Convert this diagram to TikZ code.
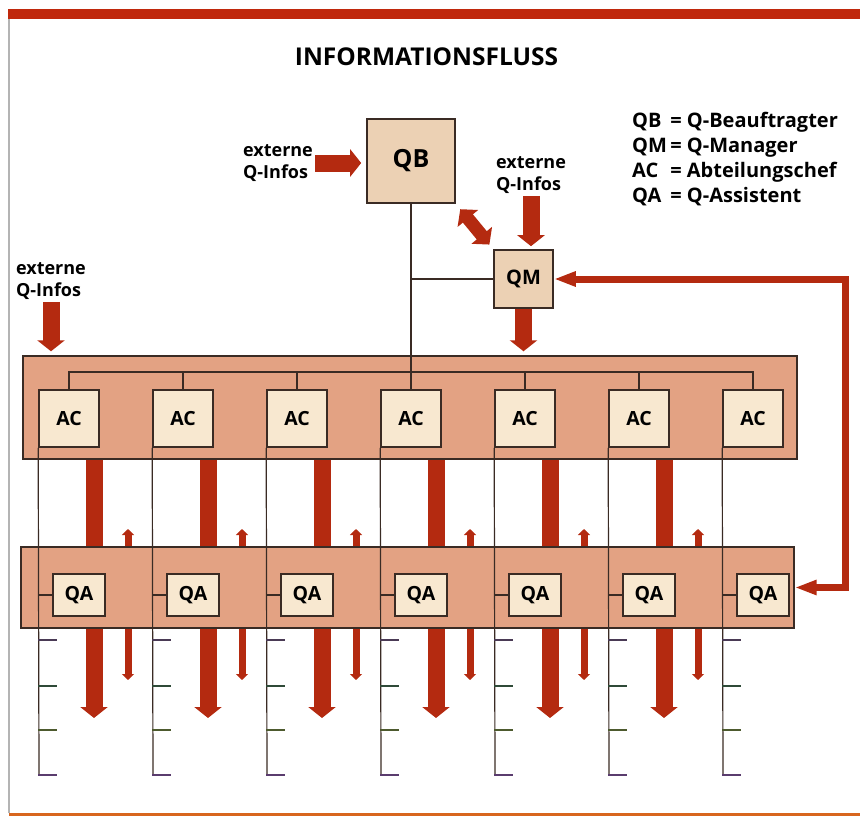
\documentclass[tikz,border=0pt]{standalone}
\usepackage{fontspec}
\setmainfont{Open Sans}
\usetikzlibrary{arrows.meta,positioning,calc}
\definecolor{band}{HTML}{C0280C}
\definecolor{arrowred}{HTML}{B42A10}
\definecolor{panelfill}{HTML}{E3A283}
\definecolor{qbfill}{HTML}{ECD1B4}
\definecolor{boxfill}{HTML}{F8E8D0}
\definecolor{edge}{HTML}{3A2B24}
\definecolor{frame}{HTML}{B4B4B4}
\definecolor{bottomline}{HTML}{D8661E}
\definecolor{tickA}{HTML}{4A3A55}
\definecolor{tickB}{HTML}{2F4A38}
\definecolor{tickC}{HTML}{4D5A2E}
\definecolor{tickD}{HTML}{5A3C6E}

\begin{document}
\begin{tikzpicture}[x=1pt, y=-1pt, font=\bfseries,
  panel/.style={draw=edge, fill=panelfill, line width=1.4pt, inner sep=0pt},
  acbox/.style={draw=edge, fill=boxfill, line width=1.6pt, minimum width=60pt, minimum height=57pt, inner sep=0pt, font=\fontsize{19.5}{19.5}\selectfont\bfseries},
  qabox/.style={acbox, minimum width=52pt, minimum height=42pt},
  topbox/.style={draw=edge, fill=qbfill, line width=1.6pt, inner sep=0pt},
  extinfo/.style={align=left, font=\fontsize{18}{22.5}\selectfont\bfseries, inner sep=2pt},
  wire/.style={draw=edge, line width=1.2pt},
  fatarr/.style={draw=arrowred, line width=17pt, -{Triangle[length=11pt,width=27pt]}},
  duoarr/.style={draw=arrowred, line width=13pt, {Triangle[length=12pt,width=26pt]}-{Triangle[length=12pt,width=26pt]}},
  thinarr/.style={draw=arrowred, line width=7pt, {Triangle[length=6pt,width=12pt]}-{Triangle[length=6pt,width=12pt]}},
  looparr/.style={draw=arrowred, line width=7pt, {Triangle[length=22pt,width=14pt]}-{Triangle[length=22pt,width=14pt]}}
]
\useasboundingbox (0,0) rectangle (860,816);
\fill[band] (8,9) rectangle (860,19);
\draw[frame, line width=1.5pt] (9,19) -- (9,813);
\fill[bottomline] (9,813) rectangle (860,816);

\node[font=\fontsize{24.5}{24.5}\selectfont\bfseries] (title) at (426.5,57) {INFORMATIONSFLUSS};
\node[anchor=north west, inner sep=0pt, font=\fontsize{20}{25}\selectfont\bfseries] (legend) at (632,110)
  {\begin{tabular}{@{}l@{\,}l@{}}QB & = Q-Beauftragter\\QM & = Q-Manager\\AC & = Abteilungschef\\QA & = Q-Assistent\end{tabular}};

\node[panel, minimum width=774pt, minimum height=103pt] (acpanel) at (410,407.5) {};
\foreach \i in {1,...,7} {
  \node[acbox] (ac\i) at ({69+114*(\i-1)},418.5) {AC};
}
\coordinate (bus) at (0,372);
\draw[wire] (ac1.north) -- (ac1.north |- bus) -- (ac7.north |- bus) -- (ac7.north);
\foreach \i in {2,...,6} {
  \draw[wire] (ac\i.north) -- (ac\i.north |- bus);
}

\foreach \i in {1,...,6} {
  \coordinate (tip\i) at ({94+114*(\i-1)},718);
  \coordinate (up\i) at ({128+114*(\i-1)},529);
  \coordinate (dn\i) at ({128+114*(\i-1)},680);
  \draw[fatarr] (acpanel.south -| tip\i) -- (tip\i);
  \draw[thinarr] (dn\i) -- (up\i);
}

\node[panel, minimum width=773pt, minimum height=81pt] (qapanel) at (407.5,587.5) {};
\foreach \i in {1,...,7} {
  \node[qabox] (qa\i) at ({79+114*(\i-1)},595) {QA};
  \coordinate (foot\i) at ({39+114*(\i-1)},775);
  \draw[wire] (ac\i.south west) -- (foot\i);
  \draw[wire] (ac\i.south west |- qa\i.west) -- (qa\i.west);
  \foreach \y/\c in {640/tickA,686/tickB,730/tickC,775/tickD} {
    \draw[wire, draw=\c] (ac\i.south west |- 0,\y) -- ++(19,0);
  }
}

\node[topbox, minimum width=88pt, minimum height=84pt, font=\fontsize{25}{25}\selectfont\bfseries] (qb) at (411,161) {QB};
\node[topbox, minimum width=59pt, minimum height=58pt, font=\fontsize{20}{20}\selectfont\bfseries] (qm) at (523.5,279) {QM};
\draw[wire] (qb.south) -- (ac4.north);
\draw[wire] (qb.south |- qm.west) -- (qm.west);

\node[extinfo] (extqb) at (278,163) {externe\\Q-Infos};
\node[extinfo] (extqm) at (531,175) {externe\\Q-Infos};
\node[extinfo] (extac) at (51,281) {externe\\Q-Infos};

\draw[fatarr, shorten >=5pt] (extqb.east) -- (extqb.east -| qb.west);
\draw[fatarr, shorten >=3pt] (extqm.south) -- (extqm.south |- qm.north);
\draw[fatarr, shorten >=4pt] (extac.south) -- (extac.south |- acpanel.north);
\draw[fatarr, shorten >=4pt] (qm.south) -- (qm.south |- acpanel.north);
\draw[duoarr, shorten <=7pt, shorten >=6pt] (qb.south east) -- (qm.north west);

\coordinate (loop) at (845,279);
\draw[looparr] (qm.east) -- (loop) |- (qapanel.east);
\end{tikzpicture}
\end{document}
